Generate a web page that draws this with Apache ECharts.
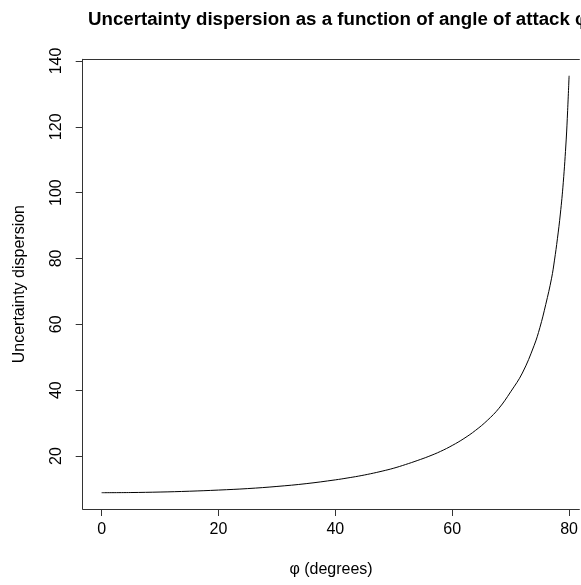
<!DOCTYPE html>
<html>
<head>
<meta charset="utf-8">
<script src="https://cdn.jsdelivr.net/npm/echarts@6/dist/echarts.min.js"></script>
<style>
html,body{margin:0;padding:0;background:#fff;}
#chart{width:581px;height:585px;}
</style>
</head>
<body>
<div id="chart"></div>
<script>
// Data
var phiDegrees = [0, 5, 10, 15, 20, 25, 30, 35, 40, 42, 44, 46, 48, 50, 52, 54, 56, 58, 60, 62, 64, 66, 68, 70, 72, 74, 75, 76, 77, 77.5, 78, 78.5, 79, 79.5, 79.75, 80];
var dispersion = [8.85, 8.9, 9.05, 9.3, 9.65, 10.1, 10.75, 11.6, 12.75, 13.3, 13.9, 14.6, 15.4, 16.3, 17.4, 18.6, 19.9, 21.4, 23.2, 25.3, 27.8, 30.8, 34.5, 39.5, 45.2, 53.5, 59, 66, 74, 79.5, 86, 93.5, 103, 116, 125, 135.5];
var xTicks = [0, 20, 40, 60, 80];
var yTicks = [20, 40, 60, 80, 100, 120, 140];
var titleText = 'Uncertainty dispersion as a function of angle of attack φ';
var xName = 'φ (degrees)';
var yName = 'Uncertainty dispersion';

var pts = phiDegrees.map(function (p, i) { return [p, dispersion[i]]; });
var font = 'Liberation Sans, Arial, Helvetica, sans-serif';
var boxColor = '#333';

var chart = echarts.init(document.getElementById('chart'), null, {renderer: 'canvas'});
chart.setOption({
  animation: false,
  backgroundColor: '#fff',
  title: {
    text: titleText,
    left: 88, top: 10, padding: 0,
    textStyle: {fontFamily: font, fontWeight: 'bold', fontSize: 18.7, color: '#000'}
  },
  grid: {
    left: 82.7, top: 59.3, bottom: 76, right: 0,
    show: false
  },
  xAxis: [{
    type: 'value', min: -3.24, max: 81.76, position: 'bottom',
    name: xName, nameLocation: 'middle', nameGap: 53,
    nameTextStyle: {fontFamily: font, fontSize: 16, color: '#000'},
    axisLine: {show: true, onZero: false, lineStyle: {color: boxColor, width: 1}},
    splitLine: {show: false},
    axisTick: {show: true, inside: false, length: 7, customValues: xTicks, lineStyle: {color: boxColor, width: 1}},
    axisLabel: {show: true, customValues: xTicks, margin: 13, fontFamily: font, fontSize: 16, color: '#000'}
  }, {
    type: 'value', min: -3.24, max: 81.76, position: 'top',
    axisLine: {show: true, onZero: false, lineStyle: {color: boxColor, width: 1}},
    splitLine: {show: false}, axisTick: {show: false}, axisLabel: {show: false}
  }],
  yAxis: {
    type: 'value', min: 3.9, max: 140.5,
    name: yName, nameLocation: 'middle', nameGap: 55, nameRotate: 90,
    nameTextStyle: {fontFamily: font, fontSize: 16, color: '#000'},
    axisLine: {show: true, onZero: false, lineStyle: {color: boxColor, width: 1}},
    splitLine: {show: false},
    axisTick: {show: true, inside: false, length: 7, customValues: yTicks, lineStyle: {color: boxColor, width: 1}},
    axisLabel: {show: true, customValues: yTicks, rotate: 90, margin: 18, fontFamily: font, fontSize: 16, color: '#000'}
  },
  series: [{
    type: 'line', data: pts, showSymbol: false, smooth: 0.4,
    lineStyle: {color: '#000', width: 1}
  }]
});
</script>
</body>
</html>
